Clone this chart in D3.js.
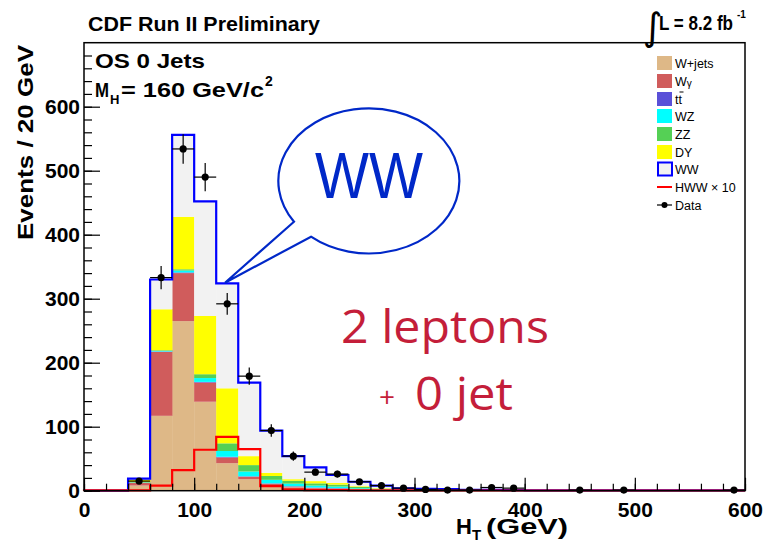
<!DOCTYPE html>
<html>
<head>
<meta charset="utf-8">
<script src="https://cdn.jsdelivr.net/npm/d3@7"></script>
<style>
  body { margin: 0; background: #fff; }
  text { font-family: "Liberation Sans", Arial, sans-serif; }
</style>
</head>
<body>
<div id="chart"></div>
<script>
// bins: 20 GeV wide, 0..600 GeV (lower edges)
const binEdges = d3.range(0, 600, 20);

// stacked backgrounds, events per bin
const wjets  = [0,0,8,117,265,139,43,18,8,5,3,2,1,0.5,0.3,0.2,0.2,0.1,0.1,0.1,0.05,0.05,0.05,0.05,0.05,0.05,0.05,0.05,0.05,0.05];
const wgamma = [0,0,4,100,75,30,9,4,3,1.5,1.5,1.5,1,0.5,0.2,0.2,0.1,0.1,0.1,0.1,0.05,0.05,0.05,0.05,0.05,0.05,0.05,0.05,0.05,0.05];
const ttbar  = [0,0,0.3,0.5,1,1,1,0.5,0.5,0.5,0.5,0.5,0.3,0.3,0.2,0.2,0.1,0.1,0.1,0.1,0.05,0.05,0.05,0.05,0.05,0.05,0.05,0.05,0.05,0.05];
const wz     = [0,0,0.5,1,3,6,9,7.5,5.5,4,3,2.5,1.5,1,0.4,0.3,0.3,0.2,0.1,0.1,0.05,0.05,0.05,0.05,0.05,0.05,0.05,0.05,0.05,0.05];
const zz     = [0,0,0.7,1,2,6,12,10,6,4.5,3.5,3,2,1,0.4,0.3,0.3,0.2,0.2,0.1,0.05,0.05,0.05,0.05,0.05,0.05,0.05,0.05,0.05,0.05];
const dy     = [0,0,4,64,82,91,86,14,5,2.5,3.5,2.5,1.2,0.7,0.3,0.3,0.2,0.1,0.1,0.1,0.05,0.05,0.05,0.05,0.05,0.05,0.05,0.05,0.05,0.05];
const ww     = [0,0,1.5,46.5,128,179,164,115,66,36,21.5,12.5,7,4,1.7,1.5,1.3,0.7,0.5,0.4,0.2,0.2,0.2,0.2,0.2,0.15,0.15,0.15,0.15,0.15];
// signal x10 and data
const hww10  = [0.5,0.5,0.5,8,32,64,84,65,7,2,1,1,0.5,0.5,0.5,0.3,0.3,0.3,0.3,0.3,0.3,0.3,0.3,0.3,0.3,0.3,0.3,0.3,0.3,0.3];
const data   = [0,0,15,333,534,490,292,179,94,54,29,26,14,8,4,2,1,1,5,4,0,0,1,0,1,0,0,0,0,1];

const keys = ["wjets","wgamma","ttbar","wz","zz","dy","ww"];
const colors = {wjets:"#deb887", wgamma:"#d05c5c", ttbar:"#5a50d8", wz:"#00ffff", zz:"#55d055", dy:"#ffff00", ww:"#f2f2f2"};
const legendLabels = ["W+jets","Wγ","tt","WZ","ZZ","DY","WW","HWW × 10","Data"];

const rows = binEdges.map((lo, i) => ({lo: lo, wjets: wjets[i], wgamma: wgamma[i], ttbar: ttbar[i],
  wz: wz[i], zz: zz[i], dy: dy[i], ww: ww[i]}));

const W = 767, H = 545;
const x = d3.scaleLinear().domain([0, 600]).range([84, 745]);
const y = d3.scaleLinear().domain([0, 700]).range([490.7, 42.7]);

const svg = d3.select("#chart").append("svg")
    .attr("width", W).attr("height", H);

// stacked fills
const series = d3.stack().keys(keys)(rows);
svg.append("g").selectAll("g")
    .data(series)
  .enter().append("g")
    .attr("fill", d => colors[d.key])
  .selectAll("rect")
    .data(d => d)
  .enter().append("rect")
    .attr("x", d => x(d.data.lo))
    .attr("width", x(20) - x(0) + 0.3)
    .attr("y", d => y(d[1]))
    .attr("height", d => Math.max(0, y(d[0]) - y(d[1])));

// step outline helper
const stepPath = vals => {
  let p = "M" + x(0) + "," + y(0);
  vals.forEach((v, i) => {
    p += "V" + y(v) + "H" + x(binEdges[i] + 20);
  });
  return p;
};

const totals = rows.map(r => keys.reduce((s, k) => s + r[k], 0));
svg.append("path")
    .attr("d", stepPath(totals))
    .attr("fill", "none")
    .attr("stroke", "#0000ff")
    .attr("stroke-width", 2.2);

svg.append("path")
    .attr("d", stepPath(hww10))
    .attr("fill", "none")
    .attr("stroke", "#ff0000")
    .attr("stroke-width", 2.2);

// axes (ticks inside, ROOT style)
const xMajor = d3.axisBottom(x).tickValues(d3.range(0, 601, 100)).tickSize(-13).tickPadding(11).tickFormat(d3.format("d"));
const xMinor = d3.axisBottom(x).tickValues(d3.range(0, 601, 20)).tickSize(-7).tickFormat("");
const yMajor = d3.axisLeft(y).tickValues(d3.range(0, 601, 100)).tickSize(-16).tickPadding(4).tickFormat(d3.format("d"));
const yMinor = d3.axisLeft(y).tickValues(d3.range(0, 700, 20)).tickSize(-8).tickFormat("");

const gx1 = svg.append("g").attr("transform", "translate(0," + y(0) + ")").call(xMinor);
const gx2 = svg.append("g").attr("transform", "translate(0," + y(0) + ")").call(xMajor);
const gy1 = svg.append("g").attr("transform", "translate(" + x(0) + ",0)").call(yMinor);
const gy2 = svg.append("g").attr("transform", "translate(" + x(0) + ",0)").call(yMajor);
[gx1, gx2, gy1, gy2].forEach(g => {
  g.select(".domain").remove();
  g.selectAll("line").attr("stroke", "#000").attr("stroke-width", 1.2);
  g.selectAll("text").attr("font-size", 21).attr("font-weight", "bold").attr("fill", "#000")
    .style("font-family", "'Liberation Sans', Arial, sans-serif");
});

// data points
const pts = svg.append("g");
data.forEach((n, i) => {
  if (n <= 0) return;
  const cx = x(binEdges[i] + 10), cy = y(n), e = Math.sqrt(n);
  pts.append("line").attr("x1", x(binEdges[i])).attr("x2", x(binEdges[i] + 20))
      .attr("y1", cy).attr("y2", cy).attr("stroke", "#000").attr("stroke-width", 1.2);
  pts.append("line").attr("x1", cx).attr("x2", cx)
      .attr("y1", y(n - e)).attr("y2", y(n + e)).attr("stroke", "#000").attr("stroke-width", 1.2);
  pts.append("circle").attr("cx", cx).attr("cy", cy).attr("r", 3.6).attr("fill", "#000");
});

// frame
svg.append("rect")
    .attr("x", x(0)).attr("y", y(700))
    .attr("width", x(600) - x(0)).attr("height", y(0) - y(700))
    .attr("fill", "none").attr("stroke", "#000").attr("stroke-width", 1.5);

// speech bubble
svg.append("path")
    .attr("d", "M294,221.7 A90.5,72.5 0 1 1 311,236.7 L225,282.7 Z")
    .attr("fill", "#fff").attr("stroke", "#0028c8").attr("stroke-width", 2.2);
svg.append("text").attr("x", 315).attr("y", 198)
    .attr("font-size", 64).attr("fill", "#0028c8")
    .attr("textLength", 108).attr("lengthAdjust", "spacingAndGlyphs")
    .text("WW");

// red annotation
const red = "#c41e3a";
svg.append("text").attr("x", 341).attr("y", 343)
    .style("font-family", "'Open Sans', sans-serif").attr("font-size", 46).attr("fill", red)
    .attr("textLength", 208).attr("lengthAdjust", "spacingAndGlyphs").text("2 leptons");
svg.append("text").attr("x", 379).attr("y", 407)
    .style("font-family", "'Open Sans', sans-serif").attr("font-size", 28).attr("fill", red).text("+");
svg.append("text").attr("x", 415).attr("y", 410)
    .style("font-family", "'Open Sans', sans-serif").attr("font-size", 46).attr("fill", red)
    .attr("textLength", 98).attr("lengthAdjust", "spacingAndGlyphs").text("0 jet");

// headers
const bold = (t, px, py, fs, len) => {
  const el = svg.append("text").attr("x", px).attr("y", py)
      .attr("font-size", fs).attr("font-weight", "bold").attr("fill", "#000").text(t);
  if (len) el.attr("textLength", len).attr("lengthAdjust", "spacingAndGlyphs");
  return el;
};
bold("CDF Run II Preliminary", 88, 31, 21, 232);
svg.append("text").attr("x", 643).attr("y", 40)
    .style("font-family", "'DejaVu Sans', sans-serif").attr("font-size", 38).attr("fill", "#000").text("∫");
bold("L = 8.2 fb", 659, 30, 20, 74);
bold("-1", 737, 18, 10);
bold("OS 0 Jets", 95, 68, 21, 110);
bold("M", 95, 97, 21, 14);
bold("H", 110, 104, 13);
bold("= 160 GeV/c", 121, 97, 21, 143);
bold("2", 265, 86, 14);

// axis titles
bold("Events / 20 GeV", 0, 0, 22, 195)
    .attr("text-anchor", "end")
    .attr("transform", "translate(33,45) rotate(-90)");
bold("H", 456, 534, 22);
bold("T", 472, 540, 15);
bold("(GeV)", 486, 534, 22, 82);

// legend
const legY = [63, 81, 99, 116, 134, 152, 169, 187, 205];
const leg = svg.append("g");
keys.forEach((k, i) => {
  if (k === "ww") {
    leg.append("rect").attr("x", 658).attr("y", legY[i] - 6.5).attr("width", 14).attr("height", 13)
        .attr("fill", colors[k]).attr("stroke", "#0000ff").attr("stroke-width", 2);
  } else {
    leg.append("rect").attr("x", 657).attr("y", legY[i] - 7).attr("width", 15).attr("height", 14)
        .attr("fill", colors[k]);
  }
});
leg.append("line").attr("x1", 657).attr("x2", 672).attr("y1", legY[7]).attr("y2", legY[7])
    .attr("stroke", "#ff0000").attr("stroke-width", 2);
leg.append("line").attr("x1", 657).attr("x2", 672).attr("y1", legY[8]).attr("y2", legY[8])
    .attr("stroke", "#000").attr("stroke-width", 1.2);
leg.append("circle").attr("cx", 664.5).attr("cy", legY[8]).attr("r", 3).attr("fill", "#000");

legendLabels.forEach((t, i) => {
  const el = leg.append("text").attr("x", 675).attr("y", legY[i] + 4.5)
      .attr("font-size", 12.5).attr("fill", "#000");
  if (t === "Wγ") {
    el.text("W");
    el.append("tspan").attr("font-size", 10).attr("dy", 1).text("γ");
  } else {
    el.text(t);
  }
});
// bar over the second t of tt
leg.append("line").attr("x1", 679.5).attr("x2", 683.5).attr("y1", legY[2] - 7).attr("y2", legY[2] - 7)
    .attr("stroke", "#000").attr("stroke-width", 1);
</script>
</body>
</html>
